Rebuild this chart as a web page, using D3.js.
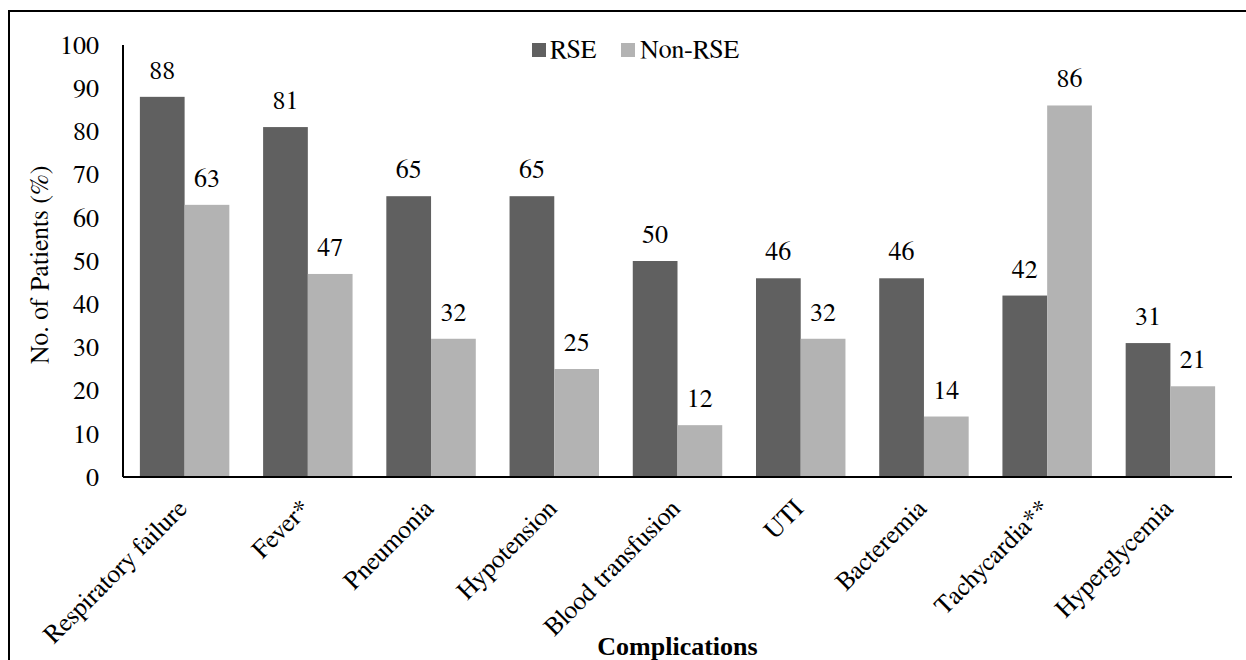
<!DOCTYPE html>
<html>
<head>
<meta charset="utf-8">
<script src="https://cdn.jsdelivr.net/npm/d3@7"></script>
<style>
  html, body { margin: 0; padding: 0; background: #fff; }
  svg { display: block; }
</style>
</head>
<body>
<svg id="chart" width="1246" height="660"></svg>
<script>
// Complication rates by group
const categories = ["Respiratory failure", "Fever*", "Pneumonia", "Hypotension",
  "Blood transfusion", "UTI", "Bacteremia", "Tachycardia**", "Hyperglycemia"];
const seriesNames = ["RSE", "Non-RSE"];
const rseValues = [88, 81, 65, 65, 50, 46, 46, 42, 31];
const nonRseValues = [63, 47, 32, 25, 12, 32, 14, 86, 21];
const yTicks = [0, 10, 20, 30, 40, 50, 60, 70, 80, 90, 100];
const seriesColors = ["#606060", "#b3b3b3"];

const FONT = "FreeSerif";
const BOLD_FONT = "Liberation Serif";

const rows = categories.map((c, i) => ({
  category: c,
  values: [
    { series: seriesNames[0], value: rseValues[i] },
    { series: seriesNames[1], value: nonRseValues[i] }
  ]
}));

const svg = d3.select("#chart");
const plot = { left: 123, right: 1232, top: 45, bottom: 477 };
const fontSize = 26;

// outer frame
svg.append("rect")
  .attr("x", 9).attr("y", 11)
  .attr("width", 1300).attr("height", 700)
  .attr("fill", "none").attr("stroke", "#000").attr("stroke-width", 2);

const x0 = d3.scaleBand()
  .domain(categories)
  .range([plot.left, plot.right])
  .paddingInner(0.274)
  .paddingOuter(0.137);

const x1 = d3.scaleBand()
  .domain(seriesNames)
  .range([0, x0.bandwidth()]);

const y = d3.scaleLinear()
  .domain([0, 100])
  .range([plot.bottom, plot.top]);

const color = d3.scaleOrdinal().domain(seriesNames).range(seriesColors);

// y axis tick labels
const yAxis = d3.axisLeft(y).tickValues(yTicks).tickSize(0).tickPadding(24);
const yg = svg.append("g").attr("transform", `translate(${plot.left},0)`).call(yAxis);
yg.attr("font-family", FONT).attr("font-size", fontSize);
yg.select(".domain").remove();
yg.selectAll("text")
  .attr("font-family", FONT)
  .attr("font-size", fontSize)
  .attr("fill", "#000");

// bars
const groups = svg.append("g").selectAll("g")
  .data(rows)
  .join("g")
  .attr("transform", d => `translate(${x0(d.category)},0)`);

groups.selectAll("rect")
  .data(d => d.values)
  .join("rect")
  .attr("x", d => x1(d.series))
  .attr("y", d => y(d.value))
  .attr("width", x1.bandwidth())
  .attr("height", d => y(0) - y(d.value))
  .attr("fill", d => color(d.series));

// value labels
groups.selectAll("text.val")
  .data(d => d.values)
  .join("text")
  .attr("class", "val")
  .attr("x", d => x1(d.series) + x1.bandwidth() / 2)
  .attr("y", d => y(d.value) - 18)
  .attr("text-anchor", "middle")
  .attr("font-family", FONT)
  .attr("font-size", fontSize)
  .attr("fill", "#000")
  .text(d => d.value);

// axis lines
svg.append("line")
  .attr("x1", plot.left).attr("x2", plot.left)
  .attr("y1", y(100)).attr("y2", y(0))
  .attr("stroke", "#000").attr("stroke-width", 2);
svg.append("line")
  .attr("x1", plot.left).attr("x2", plot.right)
  .attr("y1", y(0)).attr("y2", y(0))
  .attr("stroke", "#000").attr("stroke-width", 2.2);

// category labels, rotated
const xAxis = d3.axisBottom(x0).tickSize(0).tickPadding(0);
const xg = svg.append("g").attr("transform", `translate(0,${plot.bottom})`).call(xAxis);
xg.attr("font-family", FONT).attr("font-size", fontSize);
xg.select(".domain").remove();
xg.selectAll(".tick text")
  .attr("font-family", FONT)
  .attr("font-size", fontSize)
  .attr("fill", "#000")
  .attr("text-anchor", "end")
  .attr("dy", null)
  .attr("y", 0)
  .attr("transform", "translate(4,33) rotate(-45)");

// axis titles
svg.append("text")
  .attr("transform", `translate(48,${(plot.top + plot.bottom) / 2 + 4}) rotate(-90)`)
  .attr("text-anchor", "middle")
  .attr("font-family", FONT)
  .attr("font-size", fontSize)
  .text("No. of Patients (%)");

svg.append("text")
  .attr("x", (plot.left + plot.right) / 2)
  .attr("y", 655)
  .attr("text-anchor", "middle")
  .attr("font-family", BOLD_FONT)
  .attr("font-weight", "bold")
  .attr("font-size", fontSize)
  .text("Complications");

// legend
const legendItems = [
  { name: seriesNames[0], sx: 532, tx: 550 },
  { name: seriesNames[1], sx: 621, tx: 640 }
];
const legend = svg.append("g");
legend.selectAll("rect")
  .data(legendItems)
  .join("rect")
  .attr("x", d => d.sx).attr("y", 43)
  .attr("width", 14).attr("height", 14)
  .attr("fill", d => color(d.name));
legend.selectAll("text")
  .data(legendItems)
  .join("text")
  .attr("x", d => d.tx).attr("y", 58)
  .attr("font-family", FONT)
  .attr("font-size", fontSize)
  .text(d => d.name);
</script>
</body>
</html>
